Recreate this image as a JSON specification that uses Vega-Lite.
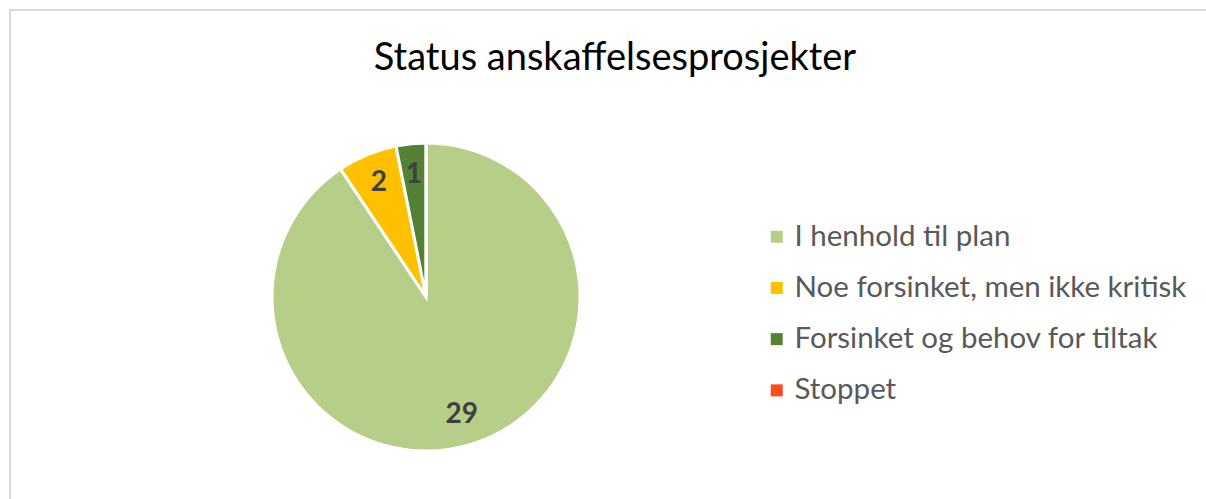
{
  "$schema": "https://vega.github.io/schema/vega-lite/v6.json",
  "autosize": {"type": "none"},
  "width": 1200,
  "height": 495,
  "padding": {"left": 10, "top": 10, "right": 0, "bottom": 0},
  "background": "white",
  "config": {
    "view": {"stroke": "#D9D9D9", "strokeWidth": 2},
    "font": "Lato"
  },
  "title": {
    "text": "Status anskaffelsesprosjekter",
    "fontSize": 38,
    "fontWeight": "normal",
    "color": "#000000",
    "font": "Lato",
    "anchor": "middle",
    "offset": -68,
    "dx": 5
  },
  "data": {
    "values": [
      {"status": "I henhold til plan", "value": 29, "idx": 1},
      {"status": "Noe forsinket, men ikke kritisk", "value": 2, "idx": 2},
      {"status": "Forsinket og behov for tiltak", "value": 1, "idx": 3},
      {"status": "Stoppet", "value": 0, "idx": 4}
    ]
  },
  "encoding": {
    "theta": {"field": "value", "type": "quantitative", "stack": true},
    "order": {"field": "idx", "type": "quantitative"},
    "x": {"datum": 0.3467, "type": "quantitative", "scale": {"domain": [0, 1]}, "axis": null},
    "y": {"datum": 0.4202, "type": "quantitative", "scale": {"domain": [0, 1]}, "axis": null}
  },
  "layer": [
    {
      "mark": {"type": "arc", "outerRadius": 154, "stroke": "white", "strokeWidth": 3},
      "encoding": {
        "color": {
          "field": "status",
          "type": "nominal",
          "scale": {
            "domain": ["I henhold til plan", "Noe forsinket, men ikke kritisk", "Forsinket og behov for tiltak", "Stoppet"],
            "range": ["#B6CE88", "#FFC000", "#548235", "#FF4B1F"]
          },
          "legend": {
            "orient": "none",
            "legendX": 752,
            "legendY": 212,
            "title": null,
            "symbolType": "square",
            "symbolSize": 144,
            "symbolStrokeWidth": 0,
            "labelFontSize": 29.5,
            "labelColor": "#595959",
            "labelFont": "Lato",
            "labelOffset": 3,
            "labelLimit": 600,
            "rowPadding": 20.2
          }
        }
      }
    },
    {
      "transform": [{"filter": "datum.value > 0"}],
      "mark": {"type": "text", "radius": 123, "fontSize": 28, "fontWeight": "bold", "color": "#404040", "font": "Lato"},
      "encoding": {
        "text": {"field": "value", "type": "quantitative"}
      }
    }
  ]
}
